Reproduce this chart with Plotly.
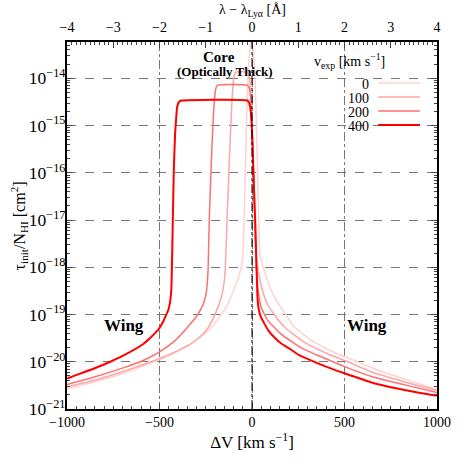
import plotly.graph_objects as go

# velocity offset [km/s] and tau_init / N_HI [cm^2]
v0_dv = [-1000, -857, -676, -500, -450, -320, -215, -167, -140, -100, -69, -52, -44, -38, -32, -25, -17, -10, -4,
         0, 4, 11, 19, 26, 32, 38, 44, 66, 103, 156, 183, 228, 336, 462, 534, 651, 831, 1000]
v0_tau = [2.7e-21, 3.7e-21, 6.0e-21, 1.12e-20, 1.32e-20, 2.5e-20, 5.6e-20, 1.0e-19, 1.4e-19, 3.2e-19, 6.9e-19,
          1.4e-18, 6.3e-18, 5.0e-17, 5.0e-16, 5.0e-15, 2.24e-14, 4.5e-14, 5.8e-14,
          5.9e-14, 5.0e-14, 2.5e-14, 5.0e-15, 5.0e-16, 5.0e-17, 6.3e-18, 1.78e-18, 8.7e-19, 3.3e-19, 1.4e-19,
          1.0e-19, 5.5e-20, 2.6e-20, 1.48e-20, 1.15e-20, 7.4e-21, 4.2e-21, 2.6e-21]

v100_dv = [-1000, -857, -676, -500, -410, -338, -266, -218, -190, -165, -150, -143, -135, -126, -118, -110, -102,
           -95, -88, -25, -15, -8, -3, 2, 8, 14, 20, 27, 34, 45, 57, 80, 120, 174, 282, 408, 517, 651, 831, 1000]
v100_tau = [2.95e-21, 4.0e-21, 6.6e-21, 1.17e-20, 1.66e-20, 2.3e-20, 3.8e-20, 7.1e-20, 1.26e-19, 2.4e-19, 5.0e-19,
            1.26e-18, 1.0e-17, 7.9e-17, 5.0e-16, 2.5e-15, 7.9e-15,
            1.17e-14, 1.35e-14, 1.35e-14, 1.12e-14, 6.3e-15, 2.5e-15, 6.3e-16, 1.26e-16, 2.0e-17, 4.0e-18, 1.26e-18,
            8.3e-19, 5.0e-19, 3.2e-19, 1.78e-19, 1.0e-19, 5.5e-20, 2.6e-20, 1.48e-20, 1.0e-20, 6.0e-21, 3.7e-21,
            2.45e-21]

v200_dv = [-1000, -857, -676, -604, -554, -500, -410, -338, -293, -266, -250, -241, -237, -231, -223, -216, -210,
           -203, -196, -188, -25, -15, -8, -3, 2, 8, 14, 20, 26, 32, 40, 49, 84, 156, 264, 390, 500, 651, 831, 1000]
v200_tau = [3.3e-21, 4.7e-21, 7.9e-21, 1.0e-20, 1.23e-20, 1.62e-20, 2.95e-20, 6.0e-20, 1.0e-19, 1.58e-19, 2.5e-19,
            5.0e-19, 1.0e-18, 1.0e-17, 7.9e-17, 4.0e-16, 1.26e-15,
            3.5e-15, 6.0e-15, 7.1e-15, 7.1e-15, 6.3e-15, 4.0e-15, 1.6e-15, 5.0e-16, 1.0e-16, 1.6e-17, 2.5e-18,
            7.1e-19, 3.5e-19, 2.1e-19, 1.45e-19, 7.6e-20, 3.9e-20, 2.0e-20, 1.2e-20, 7.9e-21, 4.8e-21, 3.2e-21,
            2.24e-21]

v400_dv = [-1000, -930, -857, -766, -676, -586, -554, -520, -500, -480, -464, -452, -446, -440, -436, -433, -428,
           -423, -416, -410, -405, -398, -390, -380, -25, -15, -8, -3, 2, 8, 14, 18, 22, 26, 30, 36, 45, 66, 90,
           120, 160, 210, 255, 318, 400, 500, 651, 831, 1000]
v400_tau = [4.4e-21, 5.6e-21, 7.1e-21, 1.0e-20, 1.48e-20, 2.4e-20, 3.1e-20, 4.2e-20, 5.2e-20, 7.1e-20, 9.8e-20,
            1.26e-19, 1.58e-19, 2.2e-19, 3.5e-19, 1.0e-18, 1.0e-17,
            1.0e-16, 6.3e-16, 1.4e-15, 2.4e-15, 3.0e-15, 3.3e-15, 3.4e-15, 3.4e-15, 3.0e-15, 2.2e-15, 1.26e-15,
            5.0e-16, 1.0e-16, 2.0e-17, 7.9e-18, 2.0e-18, 6.3e-19, 2.2e-19, 1.32e-19, 9.5e-20, 6.5e-20, 4.5e-20,
            3.3e-20, 2.4e-20, 1.82e-20, 1.38e-20, 1.07e-20, 7.9e-21, 5.7e-21, 3.6e-21, 2.5e-21, 1.9e-21]

v_exp = [0, 100, 200, 400]
curves = [(v0_dv, v0_tau), (v100_dv, v100_tau), (v200_dv, v200_tau), (v400_dv, v400_tau)]
colors = ["#ffd2d2", "#ffa6a6", "#ff7070", "#ff0000"]
widths = [1.5, 1.5, 1.5, 2]

FONT = "Liberation Serif"

fig = go.Figure()
for v, (dv, tau), c, w in zip(v_exp, curves, colors, widths):
    fig.add_trace(go.Scatter(x=dv, y=tau, mode="lines", name=str(v), showlegend=False,
                             line=dict(color=c, width=w, shape="spline", smoothing=0.5)))

# dummy trace so the wavelength axis on top is drawn
fig.add_trace(go.Scatter(x=[-4, 4], y=[None, None], xaxis="x2", mode="lines",
                         showlegend=False, hoverinfo="skip"))

fig.add_shape(type="line", x0=0, x1=0, y0=0, y1=1, xref="x", yref="paper",
              line=dict(color="black", width=1, dash="dashdot"))

# hand-made legend in gnuplot style: label, then line sample
leg_y = [0.888, 0.850, 0.812, 0.774]
for v, c, w, yy in zip(v_exp, colors, widths, leg_y):
    fig.add_annotation(x=0.822, y=yy - 0.005, xref="paper", yref="paper", text=str(v), showarrow=False,
                       xanchor="right", yanchor="middle", font=dict(size=14, color="black"))
    fig.add_shape(type="line", x0=0.841, x1=0.954, y0=yy, y1=yy, xref="paper", yref="paper",
                  line=dict(color=c, width=w))
fig.add_annotation(x=0.865, y=0.982, xref="paper", yref="paper",
                   text="v<sub>exp</sub> [km s<sup>−1</sup>]", showarrow=False,
                   font=dict(size=14, color="black"))

# axis titles placed by hand so they sit where gnuplot put them
fig.add_annotation(x=0.5, y=1.058, xref="paper", yref="paper", text="λ − λ<sub>Lyα</sub> [Å]",
                   showarrow=False, xanchor="center", yanchor="bottom", font=dict(size=14, color="black"))
fig.add_annotation(x=-0.13, y=0.5, xref="paper", yref="paper", textangle=-90,
                   text="τ<sub>init</sub>/N<sub>HI</sub> [cm<sup>2</sup>]",
                   showarrow=False, xanchor="center", yanchor="middle", font=dict(size=16, color="black"))

fig.add_annotation(x=-176, y=-13.54, text="<b>Core</b>", showarrow=False, font=dict(size=15, color="black"))
fig.add_annotation(x=-150, y=-13.86, text="<b>(Optically Thick)</b>", showarrow=False,
                   font=dict(size=13, color="black"))
fig.add_annotation(x=-692, y=-19.23, text="<b>Wing</b>", showarrow=False, font=dict(size=17, color="black"))
fig.add_annotation(x=622, y=-19.23, text="<b>Wing</b>", showarrow=False, font=dict(size=17, color="black"))

fig.update_layout(
    width=463, height=463,
    margin=dict(l=67, r=26, t=42, b=54),
    paper_bgcolor="white", plot_bgcolor="white",
    font=dict(family=FONT, size=14, color="black"),
    xaxis=dict(range=[-1000, 1000], dtick=500, ticks="inside", ticklen=6, tickwidth=1,
               showline=True, linecolor="black", linewidth=1.5, mirror=True, zeroline=False,
               showgrid=True, gridcolor="#777", griddash="dashdot", gridwidth=1,
               minor=dict(dtick=50, ticks="inside", ticklen=3, showgrid=False),
               automargin=False, ticklabelstandoff=-1,
               title=dict(text="ΔV [km s<sup>−1</sup>]", standoff=7)),
    xaxis2=dict(range=[-4, 4], dtick=1, overlaying="x", side="top", ticks="inside", ticklen=6,
                showline=True, linecolor="black", linewidth=1.5, showgrid=False, zeroline=False,
                minor=dict(dtick=0.1, ticks="inside", ticklen=3),
                automargin=False, ticklabelstandoff=3),
    yaxis=dict(type="log", range=[-21, -13.23], dtick=1, exponentformat="power",
               ticks="inside", ticklen=6, showline=True, linecolor="black", linewidth=1.5, mirror="ticks",
               showgrid=True, gridcolor="#777", griddash="dash", gridwidth=1, zeroline=False,
               minor=dict(ticks="inside", ticklen=3, dtick="D1", showgrid=False),
               automargin=False, ticklabelstandoff=-3),
)

# drop the browser's default 8px body margin so the figure sits at the page origin
fig.write_html("out.html", config={"displayModeBar": False},
               post_script="document.body.style.margin='0px';")
